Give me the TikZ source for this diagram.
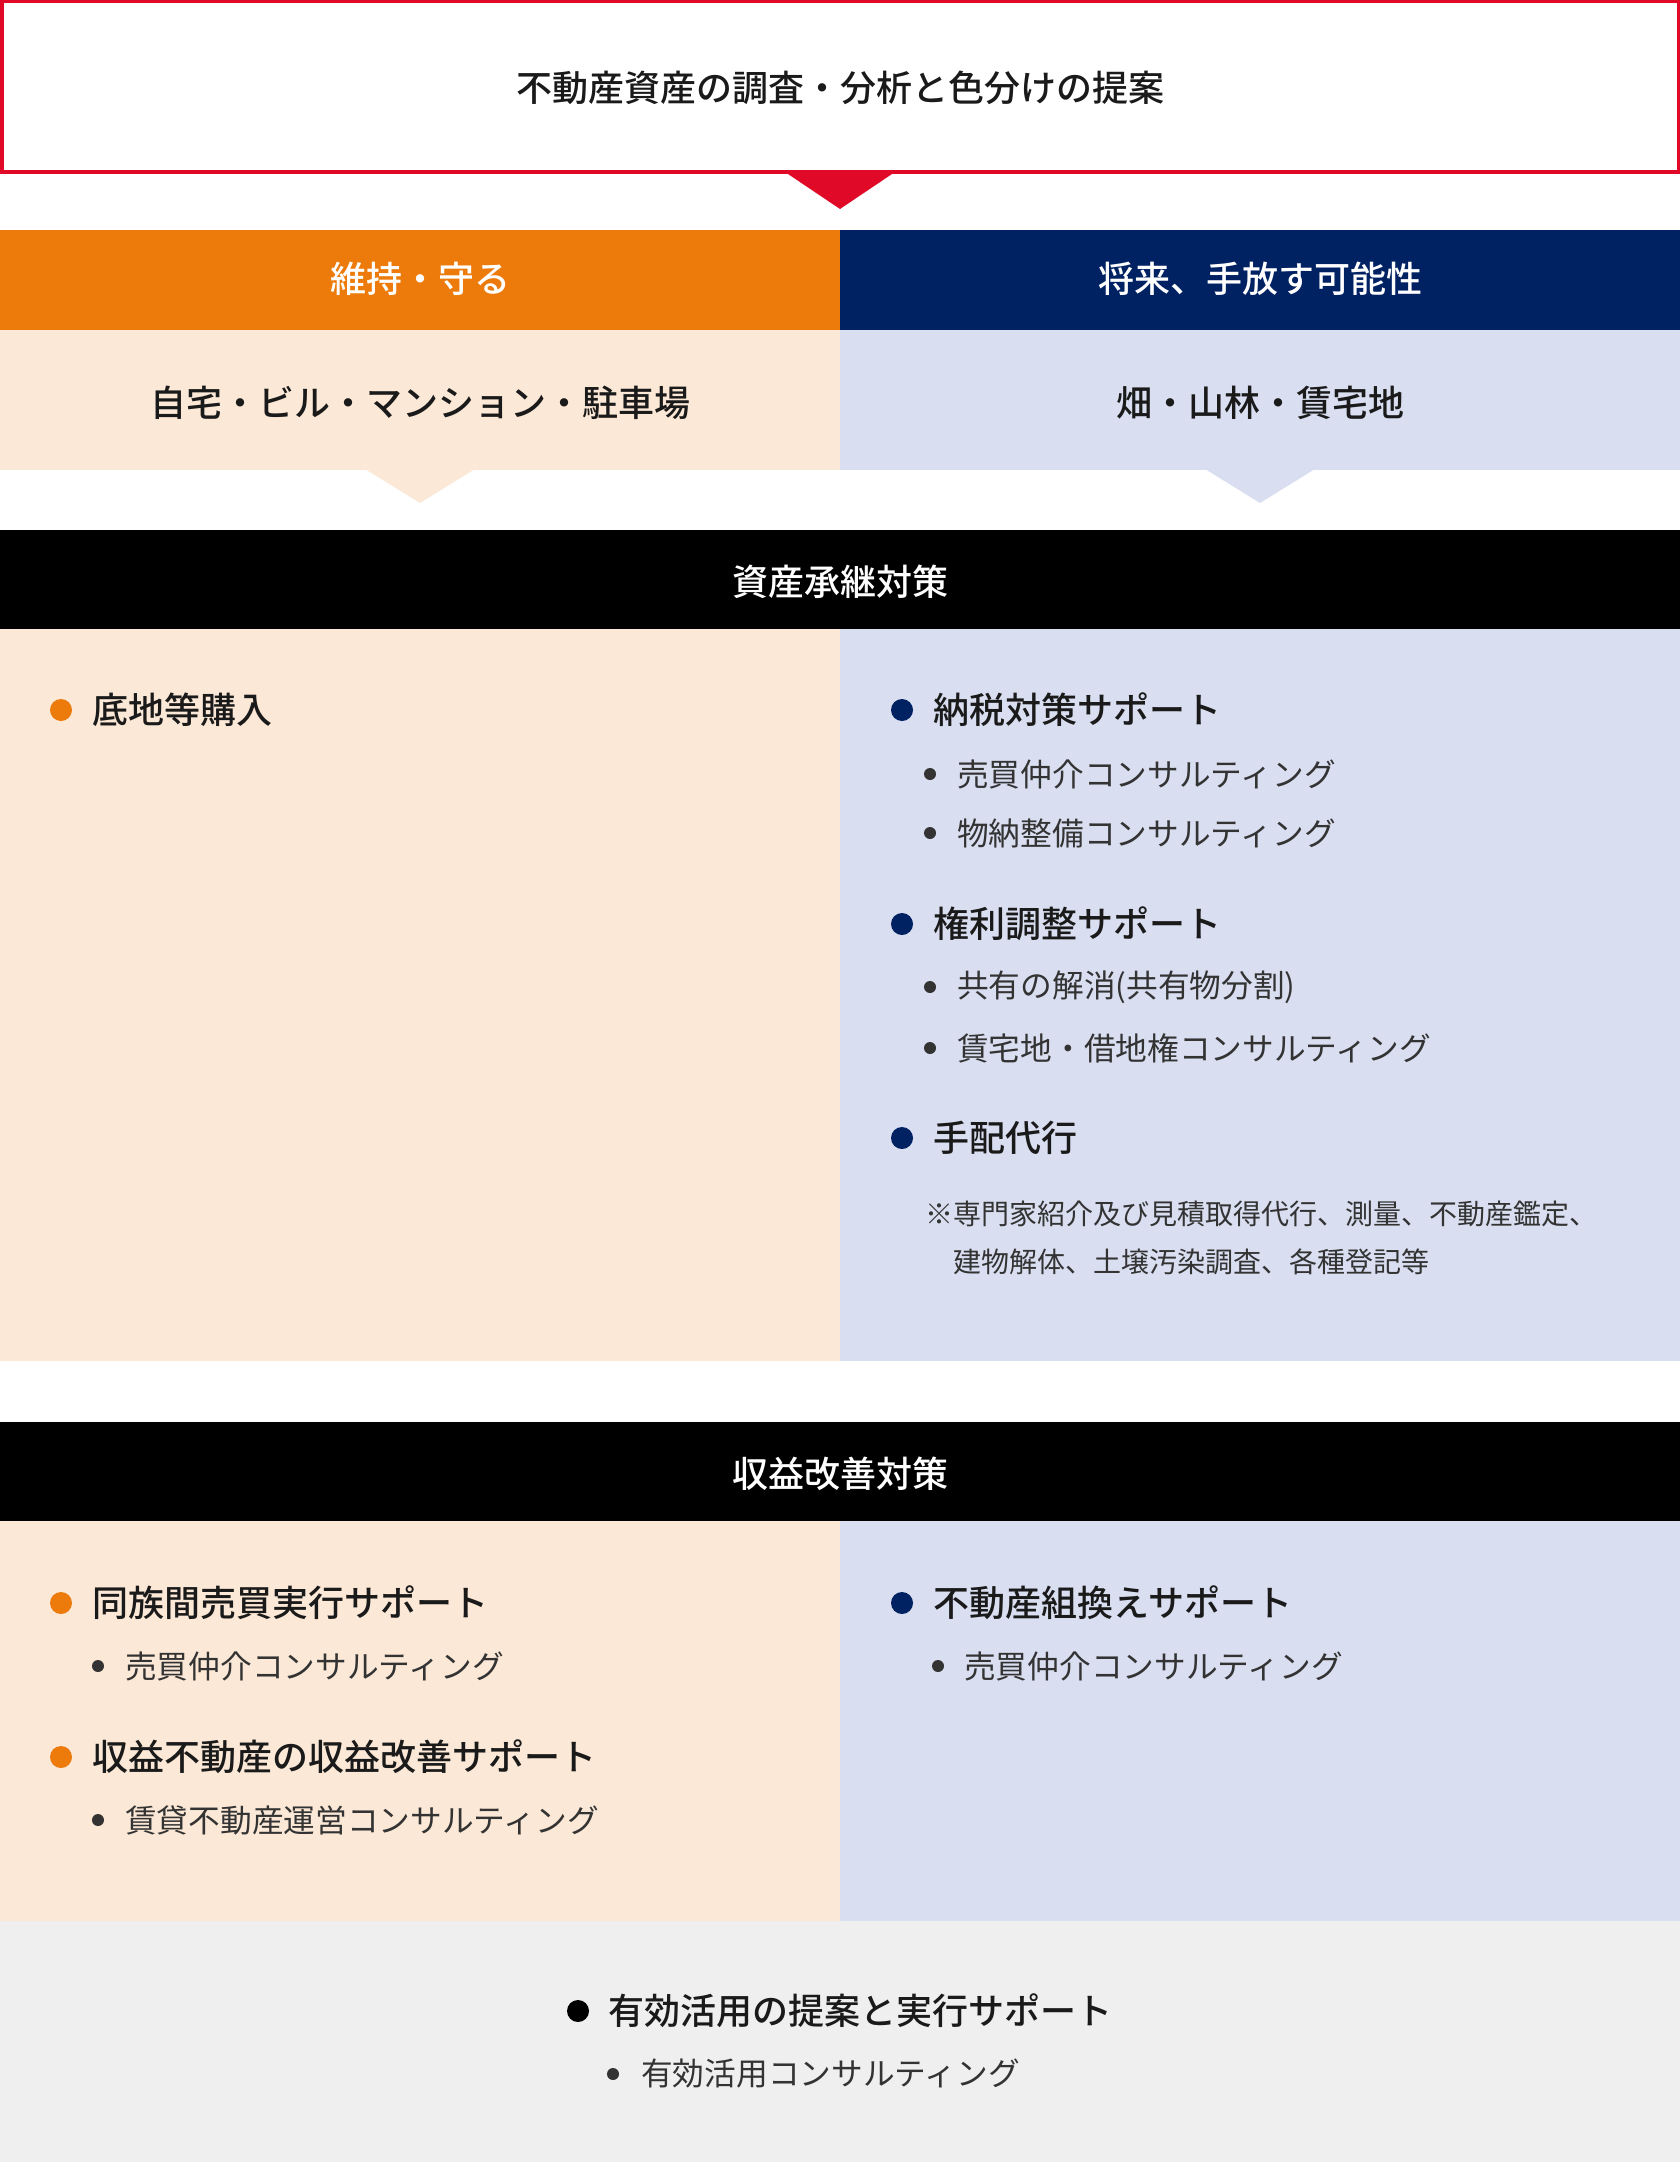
\documentclass[tikz,border=0pt]{standalone}
\usepackage{fontspec}
\setmainfont{Noto Sans CJK JP}[BoldFont={Noto Sans CJK JP Medium}]
\definecolor{kred}{HTML}{E00A28}
\definecolor{korange}{HTML}{EC7B0B}
\definecolor{knavy}{HTML}{002162}
\definecolor{kpeach}{HTML}{FBE8D6}
\definecolor{klav}{HTML}{D9DEF0}
\definecolor{kgrey}{HTML}{EFEFEF}
\definecolor{ktext}{HTML}{1A1A1A}
\definecolor{ksub}{HTML}{333333}
\begin{document}
\begin{tikzpicture}[x=1pt, y=-1pt,
		title/.style = {inner sep=0pt, font=\fontsize{36}{42}\selectfont\bfseries},
		head/.style = {anchor=west, inner sep=0pt, text=ktext, font=\fontsize{36}{42}\selectfont\bfseries},
		item/.style = {anchor=west, inner sep=0pt, text=ksub, font=\fontsize{31.7}{38}\selectfont},
		note/.style = {anchor=west, inner sep=0pt, text=ksub, font=\fontsize{28}{33}\selectfont},
		dot/.style = {circle, inner sep=0pt, minimum size=22pt},
		subdot/.style = {circle, fill=ksub, inner sep=0pt, minimum size=12pt}]
	\useasboundingbox (0,0) rectangle (1680,2162);

	% top box
	\fill[white] (0,0) rectangle (1680,2162);
	\draw[kred, line width=3.5pt] (1.75,1.75) rectangle (1678.25,172.25);
	\fill[kred] (785,172) -- (895,172) -- (840,209) -- cycle;
	\node[title, text=ktext] (top) at (840,88) {不動産資産の調査・分析と色分けの提案};

	% two columns
	\fill[korange] (0,230) rectangle (840,330);
	\fill[knavy] (840,230) rectangle (1680,330);
	\fill[kpeach] (0,330) rectangle (840,470);
	\fill[klav] (840,330) rectangle (1680,470);
	\fill[kpeach] (365,469) -- (475,469) -- (420,503) -- cycle;
	\fill[klav] (1205,469) -- (1315,469) -- (1260,503) -- cycle;
	\node[title, text=white] (keep) at (420,279) {維持・守る};
	\node[title, text=white] (sell) at (1260,279) {将来、手放す可能性};
	\node[title, text=ktext] (keepx) at (420,403) {自宅・ビル・マンション・駐車場};
	\node[title, text=ktext] (sellx) at (1260,403) {畑・山林・賃宅地};

	% succession
	\fill[black] (0,530) rectangle (1680,629);
	\fill[kpeach] (0,629) rectangle (840,1361);
	\fill[klav] (840,629) rectangle (1680,1361);
	\node[title, text=white] (succ) at (840,582) {資産承継対策};

	\node[dot, fill=korange] (a1) at (61,710) {};
	\node[head] (a1t) at (92,710) {底地等購入};

	\node[dot, fill=knavy] (b1) at (902,710) {};
	\node[head] (b1t) at (933,710) {納税対策サポート};
	\node[subdot] (b11) at (930,774) {};
	\node[item] (b11t) at (957,774) {売買仲介コンサルティング};
	\node[subdot] (b12) at (930,833) {};
	\node[item] (b12t) at (957,833) {物納整備コンサルティング};
	\node[dot, fill=knavy] (b2) at (902,924) {};
	\node[head] (b2t) at (933,924) {権利調整サポート};
	\node[subdot] (b21) at (930,987) {};
	\node[item] (b21t) at (957,987) {共有の解消(共有物分割)};
	\node[subdot] (b22) at (930,1048) {};
	\node[item] (b22t) at (957,1048) {賃宅地・借地権コンサルティング};
	\node[dot, fill=knavy] (b3) at (902,1138) {};
	\node[head] (b3t) at (933,1138) {手配代行};
	\node[note] (b3n) at (925,1214) {※専門家紹介及び見積取得代行、測量、不動産鑑定、};
	\node[note] (b3m) at (953,1262) {建物解体、土壌汚染調査、各種登記等};

	% income
	\fill[black] (0,1422) rectangle (1680,1521);
	\fill[kpeach] (0,1521) rectangle (840,1921);
	\fill[klav] (840,1521) rectangle (1680,1921);
	\fill[kgrey] (0,1921) rectangle (1680,2162);
	\node[title, text=white] (inc) at (840,1474) {収益改善対策};

	\node[dot, fill=korange] (c1) at (61,1603) {};
	\node[head] (c1t) at (92,1603) {同族間売買実行サポート};
	\node[subdot] (c11) at (98,1666) {};
	\node[item] (c11t) at (125,1666) {売買仲介コンサルティング};
	\node[dot, fill=korange] (c2) at (61,1757) {};
	\node[head] (c2t) at (92,1757) {収益不動産の収益改善サポート};
	\node[subdot] (c21) at (98,1820) {};
	\node[item] (c21t) at (125,1820) {賃貸不動産運営コンサルティング};

	\node[dot, fill=knavy] (d1) at (902,1603) {};
	\node[head] (d1t) at (933,1603) {不動産組換えサポート};
	\node[subdot] (d11) at (938,1666) {};
	\node[item] (d11t) at (964,1666) {売買仲介コンサルティング};

	\node[dot, fill=black] (e1) at (578,2011) {};
	\node[head] (e1t) at (608,2011) {有効活用の提案と実行サポート};
	\node[subdot] (e11) at (613,2074) {};
	\node[item] (e11t) at (641,2074) {有効活用コンサルティング};
\end{tikzpicture}
\end{document}
